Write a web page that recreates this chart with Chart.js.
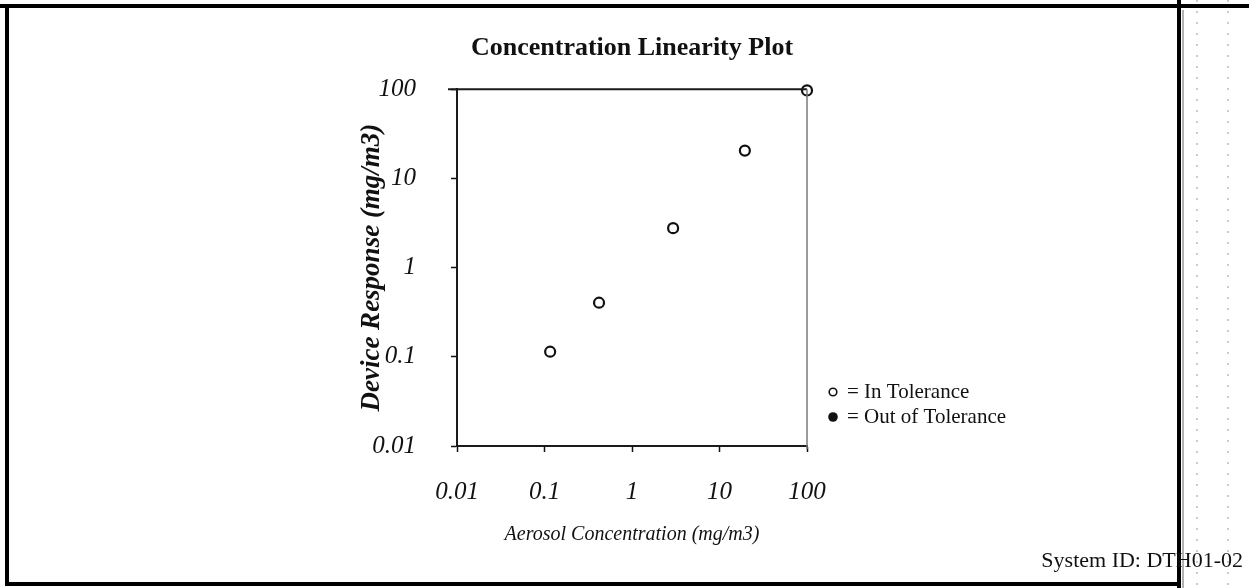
<!DOCTYPE html>
<html>
<head>
<meta charset="utf-8">
<script src="https://cdn.jsdelivr.net/npm/chart.js@4/dist/chart.umd.min.js"></script>
<style>
  html, body { margin: 0; padding: 0; background: #fff; }
  canvas { display: block; }
</style>
</head>
<body>
<canvas id="c" width="1249" height="588"></canvas>
<script>
// ---- data ----
const aerosolConcentration = [0.116, 0.42, 2.95, 19.5, 100];   // x (mg/m3)
const deviceResponse       = [0.114, 0.404, 2.77, 20.5, 97];   // y (mg/m3)
const tickValues = [0.01, 0.1, 1, 10, 100];
const tickLabels = ['0.01', '0.1', '1', '10', '100'];
const chartTitle = 'Concentration Linearity Plot';
const xTitle = 'Aerosol Concentration (mg/m3)';
const yTitle = 'Device Response (mg/m3)';
const legendLabels = ['= In Tolerance', '= Out of Tolerance'];
const systemId = 'System ID: DTH01-02';

const SERIF = "'Liberation Serif', 'Times New Roman', serif";

const decorations = {
  id: 'decorations',
  beforeDraw(chart) {
    const ctx = chart.ctx;
    ctx.save();
    ctx.fillStyle = '#fff';
    ctx.fillRect(0, 0, chart.width, chart.height);
    ctx.restore();
  },
  afterDraw(chart) {
    const ctx = chart.ctx;
    const a = chart.chartArea;
    ctx.save();
    // plot frame: top (dark) and right (grey)
    ctx.strokeStyle = '#1a1a1a';
    ctx.lineWidth = 2;
    ctx.beginPath();
    ctx.moveTo(a.left - 9, a.top);
    ctx.lineTo(a.right, a.top);
    ctx.stroke();
    ctx.strokeStyle = '#7a7a7a';
    ctx.lineWidth = 1.5;
    ctx.beginPath();
    ctx.moveTo(a.right, a.top);
    ctx.lineTo(a.right, a.bottom + 3);
    ctx.stroke();

    // legend
    ctx.fillStyle = '#111';
    ctx.strokeStyle = '#111';
    ctx.lineWidth = 1.6;
    ctx.beginPath();
    ctx.arc(833, 392, 3.8, 0, Math.PI * 2);
    ctx.stroke();
    ctx.beginPath();
    ctx.arc(833, 417, 4.8, 0, Math.PI * 2);
    ctx.fill();
    ctx.font = "21px " + SERIF;
    ctx.textBaseline = 'middle';
    ctx.textAlign = 'left';
    ctx.fillText(legendLabels[0], 847, 392);
    ctx.fillText(legendLabels[1], 847, 417);

    // page border
    ctx.strokeStyle = '#000';
    ctx.lineWidth = 4;
    ctx.beginPath();
    ctx.moveTo(0, 6);
    ctx.lineTo(1249, 6);
    ctx.moveTo(7, 4);
    ctx.lineTo(7, 586);
    ctx.moveTo(5, 584);
    ctx.lineTo(1181, 584);
    ctx.moveTo(1179, 0);
    ctx.lineTo(1179, 588);
    ctx.stroke();
    ctx.lineWidth = 1;
    ctx.strokeStyle = '#666';
    ctx.beginPath();
    ctx.moveTo(1183, 10);
    ctx.lineTo(1183, 588);
    ctx.stroke();
    // faint scanner guide lines
    ctx.setLineDash([2, 9]);
    ctx.strokeStyle = '#999';
    ctx.beginPath();
    ctx.moveTo(1197, 0); ctx.lineTo(1197, 588);
    ctx.moveTo(1228, 0); ctx.lineTo(1228, 588);
    ctx.stroke();
    ctx.setLineDash([]);

    // system id
    ctx.fillStyle = '#111';
    ctx.font = "22px " + SERIF;
    ctx.textAlign = 'right';
    ctx.textBaseline = 'alphabetic';
    ctx.fillText(systemId, 1243, 567);
    ctx.restore();
  }
};

new Chart(document.getElementById('c'), {
  type: 'scatter',
  data: {
    datasets: [{
      data: aerosolConcentration.map((x, i) => ({ x: x, y: deviceResponse[i] })),
      pointStyle: 'circle',
      pointRadius: 5,
      pointBorderWidth: 2.2,
      pointBorderColor: '#111',
      pointBackgroundColor: '#fff',
      showLine: false,
      clip: false
    }]
  },
  options: {
    responsive: false,
    animation: false,
    events: [],
    layout: { padding: { left: 350, right: 442, top: 0, bottom: 0 } },
    plugins: {
      legend: { display: false },
      tooltip: { enabled: false },
      title: {
        display: true,
        text: chartTitle,
        fullSize: false,
        color: '#111',
        font: { family: SERIF, size: 26, weight: 'bold' },
        padding: { top: 33, bottom: 25 }
      }
    },
    scales: {
      x: {
        type: 'logarithmic',
        min: 0.01, max: 100,
        afterBuildTicks: s => { s.ticks = tickValues.map(v => ({ value: v })); },
        afterFit: s => { s.height = 142; },
        ticks: {
          autoSkip: false, maxRotation: 0, minRotation: 0,
          padding: 25,
          color: '#111',
          font: { family: SERIF, size: 25, style: 'italic' },
          callback: (v, i) => tickLabels[i]
        },
        grid: { drawOnChartArea: false, drawTicks: true, tickLength: 6, tickWidth: 1.5, tickColor: '#111' },
        border: { display: true, color: '#1a1a1a', width: 2 },
        title: {
          display: true, text: xTitle, color: '#111',
          font: { family: SERIF, size: 20, style: 'italic' },
          padding: { top: 0, bottom: 41 }
        }
      },
      y: {
        type: 'logarithmic',
        min: 0.01, max: 100,
        afterBuildTicks: s => { s.ticks = tickValues.map(v => ({ value: v })); },
        afterFit: s => { s.width = 107; },
        ticks: {
          autoSkip: false,
          padding: 35,
          color: '#111',
          font: { family: SERIF, size: 25, style: 'italic' },
          callback: (v, i) => tickLabels[i]
        },
        grid: { drawOnChartArea: false, drawTicks: true, tickLength: 6, tickWidth: 1.5, tickColor: '#111' },
        border: { display: true, color: '#1a1a1a', width: 2 },
        title: {
          display: true, text: yTitle, color: '#111',
          font: { family: SERIF, size: 27, style: 'italic', weight: 'bold' },
          padding: { top: 6, bottom: 0 }
        }
      }
    }
  },
  plugins: [decorations]
});
</script>
</body>
</html>
